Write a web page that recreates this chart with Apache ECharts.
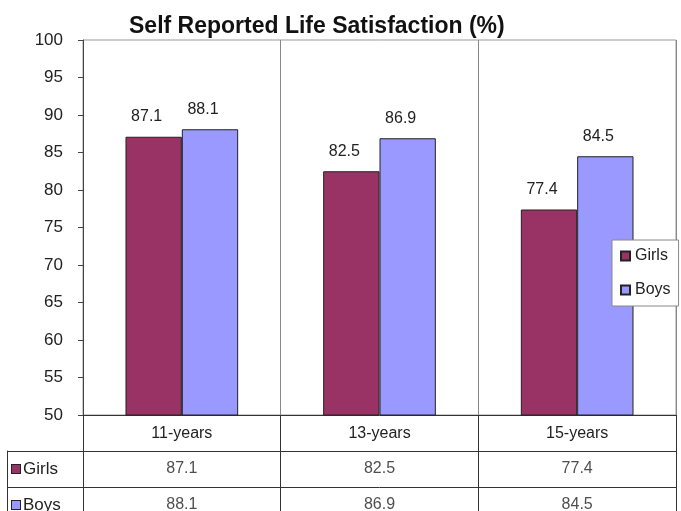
<!DOCTYPE html>
<html>
<head>
<meta charset="utf-8">
<script src="https://cdn.jsdelivr.net/npm/echarts@6/dist/echarts.min.js"></script>
<style>
  html, body { margin: 0; padding: 0; background: #fff; }
  #chart { width: 681px; height: 511px; }
</style>
</head>
<body>
<div id="chart"></div>
<script>
// 数据
const categories = ['11-years', '13-years', '15-years'];
const girls = [87.1, 82.5, 77.4];
const boys = [88.1, 86.9, 84.5];
const seriesNames = ['Girls', 'Boys'];
const seriesColors = ['#993366', '#9999FF'];

const font = 'Liberation Sans, Arial, sans-serif';

// 数据表格里的单元格文字
const tableCells = [];
[girls, boys].forEach((vals, row) => {
  vals.forEach((v, i) => tableCells.push([i, row, v]));
});

const myChart = echarts.init(document.getElementById('chart'));

const option = {
  animation: false,
  title: {
    text: 'Self Reported Life Satisfaction (%)',
    left: 124,
    top: 10,
    textStyle: { fontFamily: font, fontSize: 23, fontWeight: 'bold', color: '#111' }
  },
  legend: {
    data: seriesNames,
    orient: 'vertical',
    left: 612,
    top: 240,
    padding: [8, 8, 8, 8],
    itemGap: 18,
    itemWidth: 9,
    itemHeight: 9,
    icon: 'rect',
    backgroundColor: '#fff',
    borderColor: '#888',
    borderWidth: 1,
    textStyle: { fontFamily: font, fontSize: 16, color: '#222' }
  },
  grid: [
    { left: 83, right: 5, top: 40, height: 375, outerBoundsMode: 'none', show: true, borderColor: '#999', borderWidth: 1 },
    { left: 83, right: 5, top: 451, height: 72, outerBoundsMode: 'none' }
  ],
  xAxis: [
    {
      gridIndex: 0,
      type: 'category',
      data: categories,
      axisLine: { lineStyle: { color: '#333' } },
      axisTick: { show: true, length: 36, lineStyle: { color: '#333' } },
      axisLabel: { fontFamily: font, fontSize: 16, color: '#222', margin: 11 },
      splitLine: { show: true, lineStyle: { color: '#888' } }
    },
    {
      gridIndex: 1,
      type: 'category',
      data: categories,
      position: 'top',
      axisLine: { lineStyle: { color: '#333' } },
      axisTick: { show: false },
      axisLabel: { show: false },
      splitLine: { show: true, showMinLine: true, showMaxLine: true, lineStyle: { color: '#333' } }
    }
  ],
  yAxis: [
    {
      gridIndex: 0,
      type: 'value',
      min: 50,
      max: 100,
      interval: 5,
      axisLine: { show: true, lineStyle: { color: '#444' } },
      axisTick: { show: true, length: 5, lineStyle: { color: '#444' } },
      axisLabel: { fontFamily: font, fontSize: 17, color: '#222', margin: 20 },
      splitLine: { show: false }
    },
    {
      gridIndex: 1,
      type: 'category',
      data: seriesNames,
      inverse: true,
      axisLine: { show: true, lineStyle: { color: '#333' } },
      axisTick: { show: true, length: 76, lineStyle: { color: '#333' } },
      axisLabel: {
        margin: 71,
        align: 'left',
        formatter: (v) => '{' + v + '|}' + '{t|' + v + '}',
        rich: {
          Girls: { width: 8, height: 8, backgroundColor: seriesColors[0], borderColor: '#222', borderWidth: 1 },
          Boys: { width: 8, height: 8, backgroundColor: seriesColors[1], borderColor: '#222', borderWidth: 1 },
          t: { fontFamily: font, fontSize: 17, color: '#222', padding: [0, 0, 0, 3] }
        }
      },
      splitLine: { show: true, showMinLine: true, showMaxLine: true, lineStyle: { color: '#333' } }
    },
    {
      gridIndex: 1,
      type: 'category',
      data: seriesNames,
      position: 'left',
      offset: 76,
      axisLine: { show: true, lineStyle: { color: '#333' } },
      axisTick: { show: false },
      axisLabel: { show: false }
    }
  ],
  series: [
    {
      name: seriesNames[0],
      type: 'bar',
      xAxisIndex: 0,
      yAxisIndex: 0,
      data: girls,
      barGap: 0,
      barCategoryGap: '43%',
      itemStyle: { color: seriesColors[0], borderColor: '#222', borderWidth: 1 },
      label: {
        show: true, position: 'top', distance: 12, offset: [-7, 0],
        fontFamily: font, fontSize: 16, color: '#222'
      }
    },
    {
      name: seriesNames[1],
      type: 'bar',
      xAxisIndex: 0,
      yAxisIndex: 0,
      data: boys,
      barGap: 0,
      barCategoryGap: '43%',
      itemStyle: { color: seriesColors[1], borderColor: '#222', borderWidth: 1 },
      label: {
        show: true, position: 'top', distance: 12, offset: [-7, 0],
        fontFamily: font, fontSize: 16, color: '#222'
      }
    },
    {
      // 数据表格的数值
      type: 'scatter',
      xAxisIndex: 1,
      yAxisIndex: 1,
      symbolSize: 1,
      itemStyle: { color: 'rgba(0,0,0,0)' },
      silent: true,
      data: tableCells,
      label: {
        show: true,
        position: 'inside',
        formatter: (p) => p.value[2].toFixed(1),
        fontFamily: font, fontSize: 16, color: '#222'
      }
    }
  ]
};

myChart.setOption(option);
window.addEventListener('resize', () => myChart.resize());
</script>
</body>
</html>
